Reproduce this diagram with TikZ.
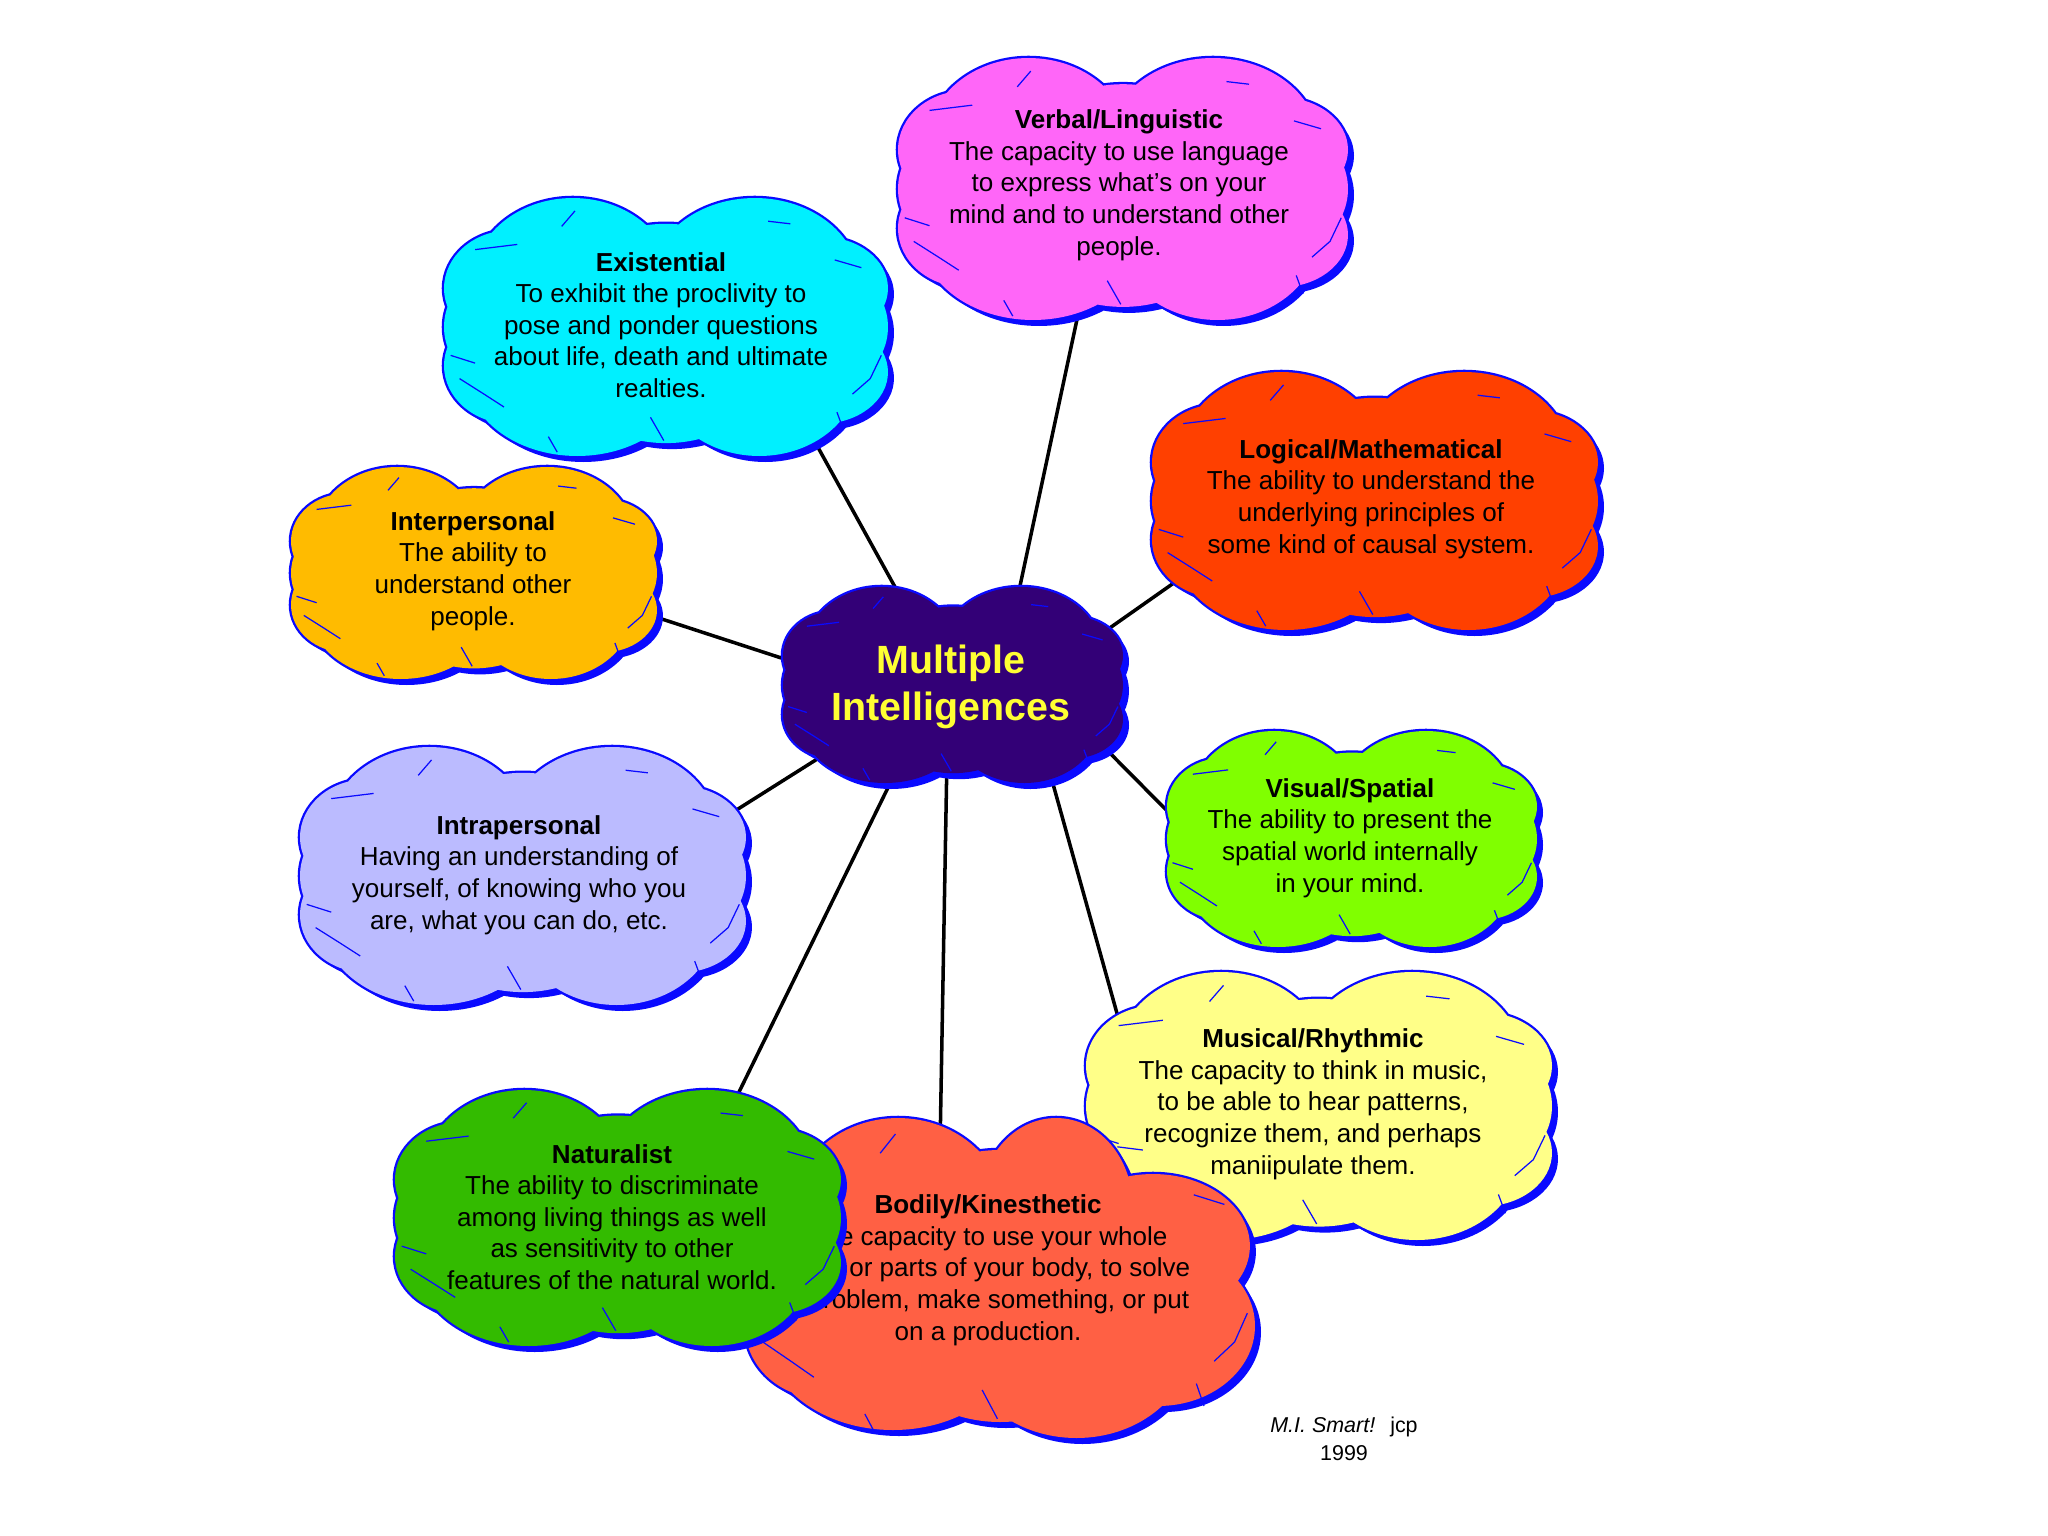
\documentclass[tikz,border=0pt]{standalone}
\usepackage{fontspec}
\setmainfont{Liberation Sans}
\definecolor{cblue}{HTML}{0A0AFF}
\definecolor{cverbal}{HTML}{FF66F8}
\definecolor{cexist}{HTML}{00F0FF}
\definecolor{clogic}{HTML}{FF4000}
\definecolor{cinter}{HTML}{FFBB00}
\definecolor{cmi}{HTML}{330077}
\definecolor{cvisual}{HTML}{80FF00}
\definecolor{cintra}{HTML}{BBBBFF}
\definecolor{cmusic}{HTML}{FFFF88}
\definecolor{cnatur}{HTML}{33BB00}
\definecolor{cbodily}{HTML}{FF6044}
\definecolor{cmitext}{HTML}{FFFF33}
\tikzset{
  txt/.style={align=center, font=\fontsize{7.4}{9}\selectfont, inner sep=0pt},
  conn/.style={line width=1pt, black},
  crease/.style={cblue, line width=0.35pt}
}
\newcommand\cloudshape{(-0.42,-0.35) ellipse [x radius=0.45, y radius=0.65]
 (0.40,-0.35) ellipse [x radius=0.47, y radius=0.65]
 (-0.40,0.35) ellipse [x radius=0.5, y radius=0.65]
 (0.42,0.35) ellipse [x radius=0.45, y radius=0.65]
 (-0.62,0) ellipse [x radius=0.38, y radius=0.55]
 (0.62,0) ellipse [x radius=0.38, y radius=0.55]
 (0.7,0.35) ellipse [x radius=0.3, y radius=0.4]
 (0.7,-0.3) ellipse [x radius=0.3, y radius=0.4]
 (-0.7,0.3) ellipse [x radius=0.3, y radius=0.45]
 (-0.7,-0.3) ellipse [x radius=0.3, y radius=0.45]
 (0,0.05) ellipse [x radius=0.55, y radius=0.85]}
\newcommand\bodilyshape{(-0.4,-0.4) ellipse [x radius=0.42, y radius=0.6]
 (0.22,-0.45) ellipse [x radius=0.3, y radius=0.55]
 (0.6,-0.2) ellipse [x radius=0.38, y radius=0.45]
 (0.62,0.3) ellipse [x radius=0.38, y radius=0.5]
 (0.3,0.4) ellipse [x radius=0.45, y radius=0.6]
 (-0.42,0.35) ellipse [x radius=0.5, y radius=0.6]
 (-0.6,0.05) ellipse [x radius=0.4, y radius=0.55]
 (-0.7,0.3) ellipse [x radius=0.3, y radius=0.45]
 (0,0.05) ellipse [x radius=0.55, y radius=0.85]}
\newcommand\creases{(-0.47,-0.78) -- (-0.41,-0.9)
 (-0.86,-0.6) -- (-0.67,-0.64)
 (-0.97,0.22) -- (-0.86,0.28)
 (-0.93,0.40) -- (-0.82,0.52) -- (-0.73,0.62)
 (-0.53,0.85) -- (-0.49,0.97)
 (-0.07,0.70) -- (-0.01,0.88)
 (0.77,0.66) -- (0.80,0.80)
 (0.84,0.52) -- (0.92,0.40) -- (0.97,0.22)
 (0.76,-0.52) -- (0.88,-0.46)
 (0.46,-0.82) -- (0.56,-0.80)}
% [#1 shape] #2 x, #3 y, #4 half width, #5 half height, #6 colour
\newcommand\mycloud[6][\cloudshape]{%
  \begin{scope}[shift={(#2+6,#3+6)}, xscale=#4, yscale=#5]
    \fill[cblue] #1;
  \end{scope}
  \begin{scope}[shift={(#2,#3)}, xscale=#4, yscale=#5]
    \filldraw[fill=#6, draw=cblue, line width=1.3pt] #1;
    \fill[#6] #1;
    \draw[crease] \creases;
  \end{scope}}
\begin{document}
\begin{tikzpicture}[x=0.01cm,y=-0.01cm]
\useasboundingbox[fill=white] (0,0) rectangle (2048,1536);
% connector end points (hidden under the clouds)
\coordinate (ex-a) at (804,422);   \coordinate (ex-b) at (911,616);
\coordinate (vl-a) at (1082,296);  \coordinate (vl-b) at (1014,614);
\coordinate (lm-a) at (1215,554);  \coordinate (lm-b) at (1077,651);
\coordinate (ip-a) at (622,606);   \coordinate (ip-b) at (812,668);
\coordinate (ia-a) at (700,833);   \coordinate (ia-b) at (841,744);
\coordinate (vs-a) at (1197,841);  \coordinate (vs-b) at (1090,733);
\coordinate (na-a) at (716,1139);  \coordinate (na-b) at (902,759);
\coordinate (bk-a) at (940,1148);  \coordinate (bk-b) at (947,756);
\coordinate (mr-a) at (1130,1060); \coordinate (mr-b) at (1048,766);
\draw[conn] (ex-a) -- (ex-b);
\draw[conn] (vl-a) -- (vl-b);
\draw[conn] (lm-a) -- (lm-b);
\draw[conn] (ip-a) -- (ip-b);
\draw[conn] (ia-a) -- (ia-b);
\draw[conn] (vs-a) -- (vs-b);
\draw[conn] (na-a) -- (na-b);
\draw[conn] (bk-a) -- (bk-b);
\draw[conn] (mr-a) -- (mr-b);
% clouds
\mycloud{1123}{189}{225}{131}{cverbal}
\node[txt] (vlt) at (1119,185) {\textbf{Verbal/Linguistic}\\The capacity to use language\\to express what's on your\\mind and to understand other\\people.};
\mycloud{666}{327}{222}{129}{cexist}
\node[txt] (ext) at (661,325) {\textbf{Existential}\\To exhibit the proclivity to\\pose and ponder questions\\about life, death and ultimate\\realties.};
\mycloud{1375}{501}{223}{129}{clogic}
\node[txt] (lmt) at (1371,499) {\textbf{Logical/Mathematical}\\The ability to understand the\\underlying principles of\\some kind of causal system.};
\mycloud{474}{573}{183}{106}{cinter}
\node[txt] (ipt) at (473,571) {\textbf{Interpersonal}\\The ability to\\understand other\\people.};
\mycloud{953}{685}{170}{98}{cmi}
\node[align=center, inner sep=0pt, text=cmitext, font=\bfseries\fontsize{11.2}{13.3}\selectfont] (mit) at (951,687) {Multiple\\Intelligences};
\mycloud{1352}{839}{185}{108}{cvisual}
\node[txt] (vst) at (1350,838) {\textbf{Visual/Spatial}\\The ability to present the\\spatial world internally\\in your mind.};
\mycloud{523}{876}{223}{129}{cintra}
\node[txt] (iat) at (519,875) {\textbf{Intrapersonal}\\Having an understanding of\\yourself, of knowing who you\\are, what you can do, etc.};
\mycloud{1319}{1106}{233}{134}{cmusic}
\node[txt] (mrt) at (1313,1104) {\textbf{Musical/Rhythmic}\\The capacity to think in music,\\to be able to hear patterns,\\recognize them, and perhaps\\maniipulate them.};
\mycloud[\bodilyshape]{1000}{1278}{255}{160}{cbodily}
\node[txt] (bkt) at (988,1270) {\textbf{Bodily/Kinesthetic}\\The capacity to use your whole\\body or parts of your body, to solve\\a problem, make something, or put\\on a production.};
\mycloud{618}{1218}{223}{128}{cnatur}
\node[txt] (nat) at (612,1217) {\textbf{Naturalist}\\The ability to discriminate\\among living things as well\\as sensitivity to other\\features of the natural world.};
% signature
\node[align=center, inner sep=0pt, font=\fontsize{6.1}{7.8}\selectfont] (sig) at (1344,1439) {{\itshape M.I. Smart!}\hspace{0.7em}jcp\\1999};
\end{tikzpicture}
\end{document}
